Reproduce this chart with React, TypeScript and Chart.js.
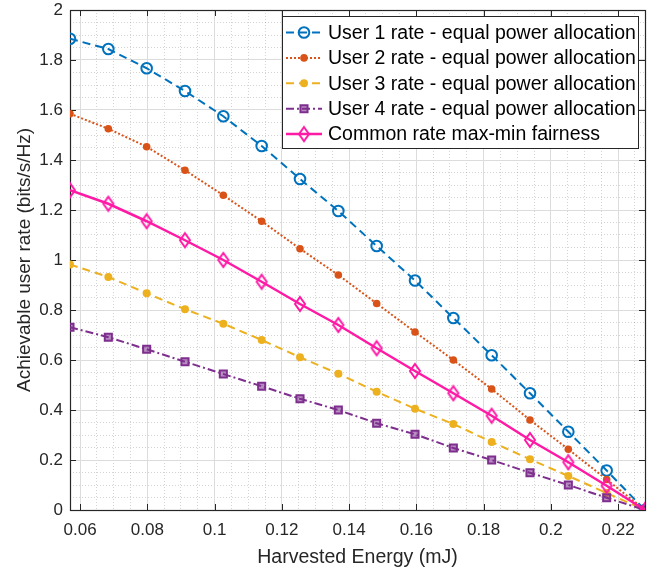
import React, { useEffect, useRef } from "react";
import { Chart, registerables } from "chart.js";
import { drawPoint } from "chart.js/helpers";

Chart.register(...registerables);

const energy = [0.057, 0.0684, 0.0798, 0.0912, 0.1026, 0.114, 0.1254, 0.1368, 0.1482, 0.1596, 0.171, 0.1824, 0.1938, 0.2052, 0.2166, 0.228];
const user1Rate = [1.885, 1.844, 1.767, 1.676, 1.575, 1.456, 1.324, 1.196, 1.056, 0.918, 0.768, 0.619, 0.467, 0.313, 0.158, 0];
const user2Rate = [1.585, 1.525, 1.453, 1.359, 1.259, 1.155, 1.045, 0.94, 0.826, 0.712, 0.6, 0.484, 0.36, 0.243, 0.122, 0];
const user3Rate = [0.982, 0.932, 0.867, 0.803, 0.745, 0.68, 0.611, 0.545, 0.473, 0.405, 0.344, 0.272, 0.203, 0.136, 0.068, 0];
const user4Rate = [0.731, 0.691, 0.643, 0.593, 0.544, 0.495, 0.445, 0.4, 0.347, 0.303, 0.248, 0.2, 0.149, 0.1, 0.049, 0];
const commonRate = [1.279, 1.225, 1.155, 1.079, 1.0, 0.913, 0.824, 0.74, 0.647, 0.556, 0.467, 0.377, 0.28, 0.191, 0.097, 0];

const seriesLabels = [
  "User 1 rate - equal power allocation",
  "User 2 rate - equal power allocation",
  "User 3 rate - equal power allocation",
  "User 4 rate - equal power allocation",
  "Common rate max-min fairness",
];

const xTicks = [0.06, 0.08, 0.1, 0.12, 0.14, 0.16, 0.18, 0.2, 0.22];
const yTicks = [0, 0.2, 0.4, 0.6, 0.8, 1, 1.2, 1.4, 1.6, 1.8, 2];
const xMin = 0.057;
const xMax = 0.228;
const yMin = 0;
const yMax = 2;
const xMinorStep = 0.005;
const yMinorStep = 0.05;

const FONT = "'Liberation Sans', Arial, Helvetica, sans-serif";
const AXIS = "#262626";

function makeDiamond(color: string) {
  const c = document.createElement("canvas");
  c.width = 14;
  c.height = 18;
  const ctx = c.getContext("2d")!;
  ctx.strokeStyle = color;
  ctx.lineWidth = 2;
  ctx.beginPath();
  ctx.moveTo(7, 2);
  ctx.lineTo(12, 9);
  ctx.lineTo(7, 16);
  ctx.lineTo(2, 9);
  ctx.closePath();
  ctx.stroke();
  return c;
}

function minorValues(min: number, max: number, step: number) {
  const out: { value: number }[] = [];
  const start = Math.ceil(min / step - 1e-9);
  const end = Math.floor(max / step + 1e-9);
  for (let k = start; k <= end; k++) out.push({ value: +(k * step).toFixed(6) });
  return out;
}

export default function App() {
  const ref = useRef<HTMLCanvasElement | null>(null);

  useEffect(() => {
    if (!ref.current) return;
    const pink = "#FF1AA6";
    const diamond = makeDiamond(pink);

    const datasets: any[] = [
      {
        label: seriesLabels[0],
        data: user1Rate,
        borderColor: "#0072BD",
        backgroundColor: "rgba(0,0,0,0)",
        borderWidth: 2,
        borderDash: [8, 5],
        pointStyle: "circle",
        pointRadius: 5.3,
        pointBorderWidth: 2,
        pointBorderColor: "#0072BD",
        pointBackgroundColor: "rgba(0,0,0,0)",
        order: 5,
      },
      {
        label: seriesLabels[1],
        data: user2Rate,
        borderColor: "#D95319",
        backgroundColor: "#D95319",
        borderWidth: 2,
        borderDash: [2, 2],
        pointStyle: "circle",
        pointRadius: 3.8,
        pointBorderWidth: 0,
        pointBackgroundColor: "#D95319",
        order: 4,
      },
      {
        label: seriesLabels[2],
        data: user3Rate,
        borderColor: "#EDB120",
        backgroundColor: "#EDB120",
        borderWidth: 2,
        borderDash: [8, 5],
        pointStyle: "circle",
        pointRadius: 4,
        pointBorderWidth: 0,
        pointBackgroundColor: "#EDB120",
        order: 3,
      },
      {
        label: seriesLabels[3],
        data: user4Rate,
        borderColor: "#7E2F8E",
        backgroundColor: "rgba(126,47,142,0.55)",
        borderWidth: 2,
        borderDash: [8, 3, 2, 3],
        pointStyle: "rect",
        pointRadius: 5,
        pointBorderWidth: 2,
        pointBorderColor: "#7E2F8E",
        pointBackgroundColor: "rgba(126,47,142,0.55)",
        order: 2,
      },
      {
        label: seriesLabels[4],
        data: commonRate,
        borderColor: pink,
        backgroundColor: "rgba(0,0,0,0)",
        borderWidth: 2.5,
        pointStyle: diamond,
        pointRadius: 6,
        order: 1,
      },
    ];

    const boxPlugin = {
      id: "matlabBox",
      beforeDatasetsDraw(chart: any) {
        const { ctx, chartArea } = chart;
        const xs = chart.scales.x;
        const ys = chart.scales.y;
        const { left, right, top, bottom } = chartArea;
        ctx.save();
        ctx.strokeStyle = AXIS;
        ctx.lineWidth = 1;
        ctx.setLineDash([]);
        const tl = 6;
        ctx.beginPath();
        for (const v of xTicks) {
          const px = Math.round(xs.getPixelForValue(v)) + 0.5;
          ctx.moveTo(px, bottom);
          ctx.lineTo(px, bottom - tl);
          ctx.moveTo(px, top);
          ctx.lineTo(px, top + tl);
        }
        for (const v of yTicks) {
          const py = Math.round(ys.getPixelForValue(v)) + 0.5;
          ctx.moveTo(left, py);
          ctx.lineTo(left + tl, py);
          ctx.moveTo(right, py);
          ctx.lineTo(right - tl, py);
        }
        ctx.stroke();
        ctx.lineWidth = 1.2;
        ctx.strokeRect(Math.round(left) + 0.5, Math.round(top) + 0.5, Math.round(right - left), Math.round(bottom - top));
        ctx.restore();
      },
      afterDraw(chart: any) {
        const { ctx } = chart;
        const lx = 282, ly = 16, lw = 356, lh = 132;
        ctx.save();
        ctx.fillStyle = "#ffffff";
        ctx.fillRect(lx, ly, lw, lh);
        ctx.strokeStyle = AXIS;
        ctx.lineWidth = 1;
        ctx.setLineDash([]);
        ctx.strokeRect(lx + 0.5, ly + 0.5, lw, lh);
        chart.data.datasets.forEach((ds: any, i: number) => {
          const cy = 32.5 + i * 25.4;
          ctx.save();
          ctx.strokeStyle = ds.borderColor;
          ctx.lineWidth = ds.borderWidth;
          ctx.setLineDash(ds.borderDash || []);
          ctx.beginPath();
          ctx.moveTo(286, cy);
          ctx.lineTo(322, cy);
          ctx.stroke();
          ctx.setLineDash([]);
          ctx.fillStyle = ds.pointBackgroundColor || "rgba(0,0,0,0)";
          ctx.strokeStyle = ds.pointBorderColor || ds.borderColor;
          ctx.lineWidth = ds.pointBorderWidth || 0;
          drawPoint(ctx, { pointStyle: ds.pointStyle, radius: ds.pointRadius, rotation: 0, borderWidth: ds.pointBorderWidth || 0 }, 304, cy);
          ctx.restore();
          ctx.fillStyle = "#000000";
          ctx.font = `19.5px ${FONT}`;
          ctx.textBaseline = "middle";
          ctx.textAlign = "left";
          ctx.fillText(ds.label, 328, cy + 1);
        });
        ctx.restore();
      },
    };

    const chart = new Chart(ref.current, {
      type: "line",
      data: {
        labels: energy,
        datasets: datasets.map((d) => ({
          ...d,
          data: d.data.map((v: number, i: number) => ({ x: energy[i], y: v })),
        })),
      },
      options: {
        animation: false,
        responsive: false,
        maintainAspectRatio: false,
        layout: { padding: { top: 10, right: 21, left: 0, bottom: 0 } },
        plugins: { legend: { display: false }, tooltip: { enabled: false } },
        elements: { line: { tension: 0 } },
        scales: {
          xMinor: {
            type: "linear",
            position: "bottom",
            min: xMin,
            max: xMax,
            ticks: { display: false },
            grid: { color: "rgba(0,0,0,0.17)", lineWidth: 1, drawTicks: false },
            border: { display: false, dash: [1, 2] },
            afterBuildTicks: (s: any) => {
              s.ticks = minorValues(xMin, xMax, xMinorStep);
            },
            afterFit: (s: any) => {
              s.height = 0;
              s.paddingLeft = 0;
              s.paddingRight = 0;
            },
          },
          yMinor: {
            type: "linear",
            position: "left",
            min: yMin,
            max: yMax,
            ticks: { display: false },
            grid: { color: "rgba(0,0,0,0.17)", lineWidth: 1, drawTicks: false },
            border: { display: false, dash: [1, 2] },
            afterBuildTicks: (s: any) => {
              s.ticks = minorValues(yMin, yMax, yMinorStep);
            },
            afterFit: (s: any) => {
              s.width = 0;
              s.paddingTop = 0;
              s.paddingBottom = 0;
            },
          },
          x: {
            type: "linear",
            position: "bottom",
            min: xMin,
            max: xMax,
            grid: { color: "#dcdcdc", lineWidth: 1, drawTicks: false },
            border: { display: false },
            ticks: {
              color: AXIS,
              padding: 10,
              font: { family: FONT, size: 17, lineHeight: 1.2 },
              callback: (v: any) => String(+Number(v).toFixed(3)),
            },
            afterBuildTicks: (s: any) => {
              s.ticks = xTicks.map((v) => ({ value: v }));
            },
            afterFit: (s: any) => {
              s.height = 59;
              s.paddingLeft = 0;
              s.paddingRight = 0;
            },
            title: {
              display: true,
              text: "Harvested Energy (mJ)",
              color: AXIS,
              font: { family: FONT, size: 19.5, lineHeight: 1.2 },
              padding: { top: 0, bottom: 0 },
            },
          },
          y: {
            type: "linear",
            position: "left",
            min: yMin,
            max: yMax,
            grid: { color: "#dcdcdc", lineWidth: 1, drawTicks: false },
            border: { display: false },
            ticks: {
              color: AXIS,
              padding: 7,
              font: { family: FONT, size: 17, lineHeight: 1.2 },
              callback: (v: any) => String(+Number(v).toFixed(2)),
            },
            afterBuildTicks: (s: any) => {
              s.ticks = yTicks.map((v) => ({ value: v }));
            },
            afterFit: (s: any) => {
              s.width = 70;
              s.paddingTop = 0;
              s.paddingBottom = 0;
            },
            title: {
              display: true,
              text: "Achievable user rate (bits/s/Hz)",
              color: AXIS,
              font: { family: FONT, size: 19, lineHeight: 1.2 },
              padding: { top: 13, bottom: 0 },
            },
          },
        },
      } as any,
      plugins: [boxPlugin],
    });
    return () => chart.destroy();
  }, []);

  return (
    <div style={{ position: "fixed", left: 0, top: 0, width: 666, height: 569, background: "#fff" }}>
      <canvas ref={ref} width={666} height={569} style={{ display: "block" }} />
    </div>
  );
}
